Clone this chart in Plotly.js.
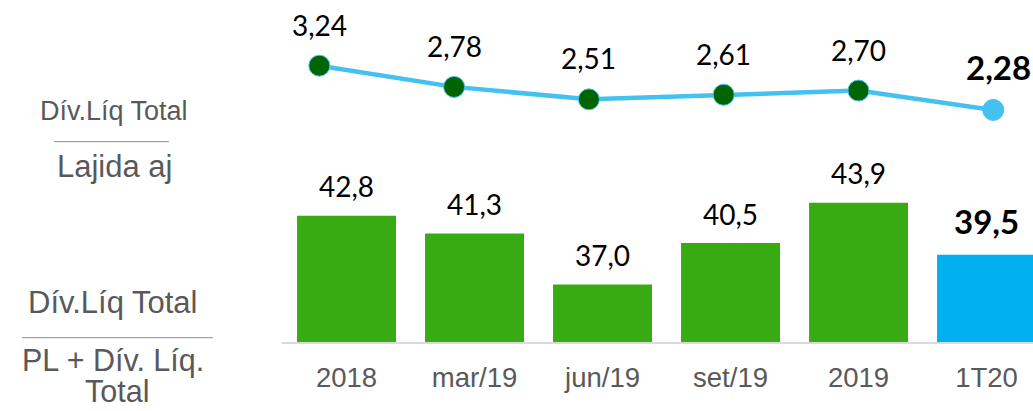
<!DOCTYPE html>
<html>
<head>
<meta charset="utf-8">
<script src="https://cdn.plot.ly/plotly-3.0.1.min.js"></script>
<style>html,body{margin:0;padding:0;background:#fff;}#chart{width:1033px;height:411px;}</style>
</head>
<body>
<div id="chart"></div>
<script>
// ---- data ----
const categories = ["2018", "mar/19", "jun/19", "set/19", "2019", "1T20"];
const barValues  = [42.8, 41.3, 37.0, 40.5, 43.9, 39.5];       // Dív.Líq Total / (PL + Dív. Líq. Total)
const lineValues = [3.24, 2.78, 2.51, 2.61, 2.70, 2.28];       // Dív.Líq Total / Lajida aj
const barLabels  = ["42,8", "41,3", "37,0", "40,5", "43,9", "39,5"];
const lineLabels = ["3,24", "2,78", "2,51", "2,61", "2,70", "2,28"];

// ---- style ----
const GREEN = "#38AB13", BLUE_BAR = "#00B0F0", LINE_BLUE = "#45C1F0", DARK_GREEN = "#006400";
const GREY_TXT = "#595959";
const W = 1033, H = 411, ML = 282, MB = 69, MT = 0, MR = 0;
const PW = W - ML - MR, PH = H - MT - MB;
const pxX = px => (px - ML) / PW;
const pxY = py => (H - MB - py) / PH;
const last = categories.length - 1;

const bars = {
  type: "bar", x: categories, y: barValues, xaxis: "x", yaxis: "y",
  width: 0.773,
  marker: { color: categories.map((c, i) => i === last ? BLUE_BAR : GREEN) },
  hoverinfo: "skip"
};
const line = {
  type: "scatter", mode: "lines+markers", x: categories, y: lineValues, xaxis: "x2", yaxis: "y2",
  line: { color: LINE_BLUE, width: 4.5 },
  marker: { size: 21, color: categories.map((c, i) => i === last ? LINE_BLUE : DARK_GREEN),
            line: { color: LINE_BLUE, width: 1 } },
  cliponaxis: false, hoverinfo: "skip"
};

const labelFont = { family: "Lato, 'Open Sans', sans-serif", size: 28, color: "#000" };
const boldFont = { family: "Lato, 'Open Sans', sans-serif", size: 33, color: "#000" };
const annotations = [];
categories.forEach((c, i) => {
  const bold = i === last;
  annotations.push({
    x: i, y: barValues[i], xref: "x", yref: "y", showarrow: false,
    text: bold ? "<b>" + barLabels[i] + "</b>" : barLabels[i],
    yanchor: "middle", yshift: bold ? 34 : 29.5, font: bold ? boldFont : labelFont
  });
  annotations.push({
    x: i, y: lineValues[i], xref: "x2", yref: "y2", showarrow: false,
    text: bold ? "<b>" + lineLabels[i] + "</b>" : lineLabels[i],
    yanchor: "middle", yshift: bold ? 43 : 41, xshift: bold ? 5 : 0, font: bold ? boldFont : labelFont
  });
});
const leftFont = s => ({ family: "'Liberation Sans', Arial, sans-serif", size: s, color: GREY_TXT });
const leftTexts = [
  { t: "Dív.Líq Total", x: 114, y: 111, s: 27 },
  { t: "Lajida aj", x: 114, y: 166, s: 31 },
  { t: "Dív.Líq Total", x: 112, y: 302, s: 31 },
  { t: "PL + Dív. Líq.", x: 113, y: 360, s: 30.5 },
  { t: "Total", x: 117, y: 391, s: 30.5 }
];
leftTexts.forEach(o => annotations.push({
  x: pxX(o.x), y: pxY(o.y), xref: "paper", yref: "paper", showarrow: false,
  text: o.t, xanchor: "center", yanchor: "middle", font: leftFont(o.s)
}));

const shapes = [
  { type: "line", xref: "paper", yref: "paper", x0: pxX(54), x1: pxX(169), y0: pxY(141.7), y1: pxY(141.7),
    line: { color: "#8c8c8c", width: 1 } },
  { type: "line", xref: "paper", yref: "paper", x0: pxX(22), x1: pxX(213), y0: pxY(337.7), y1: pxY(337.7),
    line: { color: "#8c8c8c", width: 1 } }
];

const layout = {
  width: W, height: H,
  margin: { l: ML, r: MR, t: MT, b: MB, pad: 0 },
  paper_bgcolor: "#fff", plot_bgcolor: "#fff",
  showlegend: false,
  xaxis: {
    type: "category", range: [-0.504, 5.363], showgrid: false, zeroline: false,
    showline: true, linecolor: "#d9d9d9", linewidth: 2, ticks: "", ticklabelstandoff: 10,
    tickfont: { family: "'Liberation Sans', Arial, sans-serif", size: 27.5, color: GREY_TXT },
    fixedrange: true
  },
  yaxis: { range: [32.16, 60.97], visible: false, showgrid: false, zeroline: false, fixedrange: true },
  xaxis2: { type: "category", overlaying: "x", anchor: "y2", range: [-0.277, 5.295], visible: false, fixedrange: true },
  yaxis2: { overlaying: "y", anchor: "x2", range: [-2.754, 4.665], visible: false, fixedrange: true },
  annotations: annotations,
  shapes: shapes
};

Plotly.newPlot("chart", [bars, line], layout, { staticPlot: true, displayModeBar: false });
</script>
</body>
</html>
